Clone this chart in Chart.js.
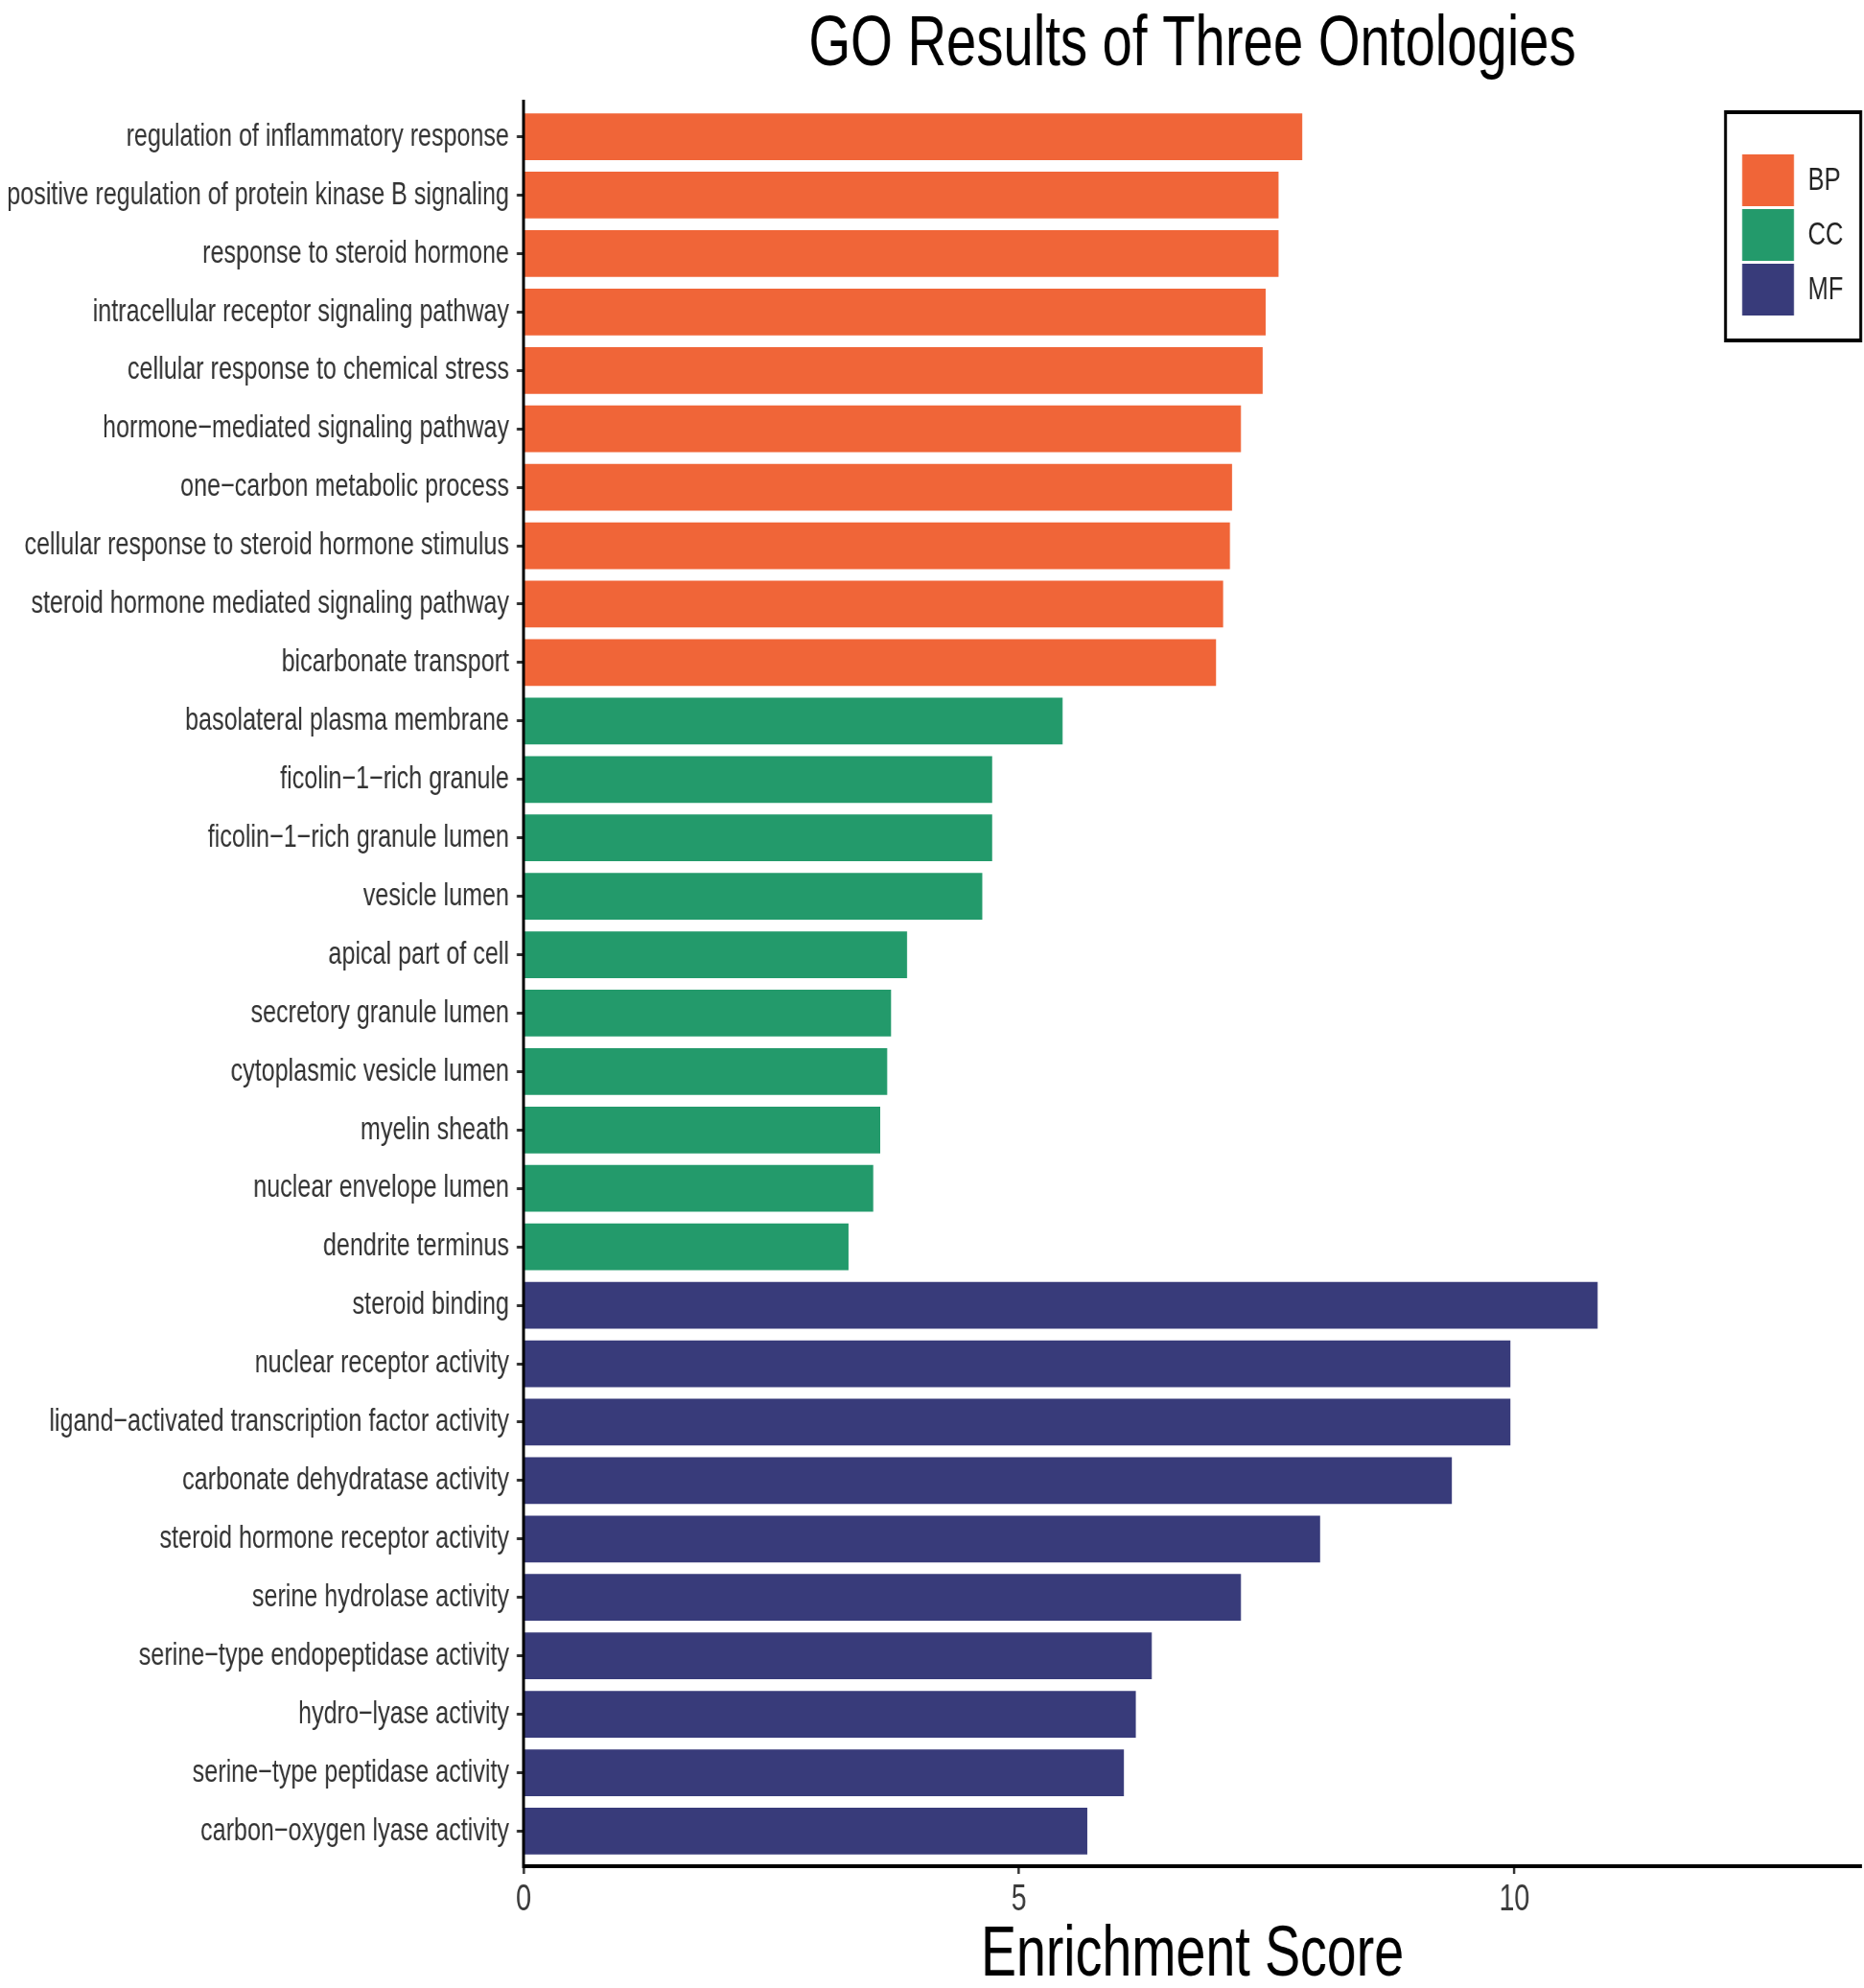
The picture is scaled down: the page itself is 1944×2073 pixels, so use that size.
<!DOCTYPE html>
<html>
<head>
<meta charset="utf-8">
<title>GO Results of Three Ontologies</title>
<script src="https://cdn.jsdelivr.net/npm/chart.js@4.4.1/dist/chart.umd.min.js"></script>
<style>
  html, body { margin: 0; padding: 0; background: #fff; }
  canvas { display: block; }
</style>
</head>
<body>
<canvas id="go_chart"></canvas>
<script>
const terms = [
  'regulation of inflammatory response',
  'positive regulation of protein kinase B signaling',
  'response to steroid hormone',
  'intracellular receptor signaling pathway',
  'cellular response to chemical stress',
  'hormone\u2212mediated signaling pathway',
  'one\u2212carbon metabolic process',
  'cellular response to steroid hormone stimulus',
  'steroid hormone mediated signaling pathway',
  'bicarbonate transport',
  'basolateral plasma membrane',
  'ficolin\u22121\u2212rich granule',
  'ficolin\u22121\u2212rich granule lumen',
  'vesicle lumen',
  'apical part of cell',
  'secretory granule lumen',
  'cytoplasmic vesicle lumen',
  'myelin sheath',
  'nuclear envelope lumen',
  'dendrite terminus',
  'steroid binding',
  'nuclear receptor activity',
  'ligand\u2212activated transcription factor activity',
  'carbonate dehydratase activity',
  'steroid hormone receptor activity',
  'serine hydrolase activity',
  'serine\u2212type endopeptidase activity',
  'hydro\u2212lyase activity',
  'serine\u2212type peptidase activity',
  'carbon\u2212oxygen lyase activity'
];
const scores = [
  7.86, 7.62, 7.62, 7.49, 7.46, 7.24, 7.15, 7.13, 7.06, 6.99,
  5.44, 4.73, 4.73, 4.63, 3.87, 3.71, 3.67, 3.60, 3.53, 3.28,
  10.84, 9.96, 9.96, 9.37, 8.04, 7.24, 6.34, 6.18, 6.06, 5.69
];
const ontology = [
  'BP', 'BP', 'BP', 'BP', 'BP', 'BP', 'BP', 'BP', 'BP', 'BP',
  'CC', 'CC', 'CC', 'CC', 'CC', 'CC', 'CC', 'CC', 'CC', 'CC',
  'MF', 'MF', 'MF', 'MF', 'MF', 'MF', 'MF', 'MF', 'MF', 'MF'
];
const groups = ['BP', 'CC', 'MF'];
const group_colors = ['#F06538', '#239A6B', '#383B7A'];
const x_ticks = [0, 5, 10];
const x_max = 13.5;

// the original figure is squeezed sideways (narrow text), so the canvas is
// drawn wider than the page and css squeezes it back
const SQUEEZE = 0.75;
const PAGE_W = 1944, PAGE_H = 2073;
const hx = v => v / SQUEEZE;

const canvas = document.getElementById('go_chart');
canvas.width = Math.round(hx(PAGE_W));
canvas.height = PAGE_H;
canvas.style.width = PAGE_W + 'px';
canvas.style.height = PAGE_H + 'px';

const FONT = "'Liberation Sans', Arial, Helvetica, sans-serif";

const title_and_legend = {
  id: 'title_and_legend',
  afterDraw(chart) {
    const ctx = chart.ctx, area = chart.chartArea;
    ctx.save();
    ctx.fillStyle = '#000';
    ctx.font = '75px ' + FONT;
    ctx.textAlign = 'center';
    ctx.textBaseline = 'alphabetic';
    ctx.fillText('GO Results of Three Ontologies', (area.left + area.right) / 2, 68);

    // legend box sits over the top right of the plot
    let box_r = chart.width - hx(3.5), box_l = box_r - hx(141);
    ctx.lineWidth = 4;
    ctx.strokeStyle = '#000';
    ctx.strokeRect(box_l, 117, box_r - box_l, 238);
    ctx.font = '34px ' + FONT;
    ctx.textAlign = 'left';
    ctx.textBaseline = 'middle';
    groups.forEach((g, i) => {
      let y = 161 + i * 57;
      ctx.fillStyle = group_colors[i];
      ctx.fillRect(box_l + hx(17.5), y, hx(54), 54);
      ctx.fillStyle = '#222';
      ctx.fillText(g, box_l + hx(86), y + 28);
    });
    ctx.restore();
  }
};

new Chart(canvas, {
  type: 'bar',
  data: {
    datasets: [{
      data: scores.map((s, i) => ({x: s, y: i})),
      backgroundColor: ontology.map(o => group_colors[groups.indexOf(o)]),
      barPercentage: 0.8,
      categoryPercentage: 1.0,
      borderWidth: 0
    }]
  },
  options: {
    indexAxis: 'y',
    responsive: false,
    devicePixelRatio: 1,
    animation: false,
    layout: {padding: {top: 106, right: hx(3), bottom: 0, left: 0}},
    plugins: {
      legend: {display: false},
      tooltip: {enabled: false},
      title: {display: false}
    },
    scales: {
      x: {
        type: 'linear',
        position: 'bottom',
        min: 0,
        max: x_max,
        afterBuildTicks: ax => { ax.ticks = x_ticks.map(v => ({value: v})); },
        afterFit: ax => { ax.height = PAGE_H - 1946; },
        grid: {display: true, drawOnChartArea: false, drawTicks: true, tickLength: 8, tickWidth: hx(2.5), tickColor: '#333'},
        border: {display: true, color: '#000', width: 4, z: 1},
        ticks: {color: '#3a3a3a', font: {family: FONT, size: 38}, padding: 5, maxRotation: 0, autoSkip: false},
        title: {
          display: true,
          text: 'Enrichment Score',
          color: '#000',
          font: {family: FONT, size: 74, lineHeight: 0.9},
          padding: 0
        }
      },
      y: {
        type: 'linear',
        position: 'left',
        reverse: true,
        offset: false,
        min: -0.6,
        max: terms.length - 0.4,
        afterBuildTicks: ax => { ax.ticks = terms.map((t, i) => ({value: i})); },
        afterFit: ax => { ax.width = hx(546); },
        grid: {display: true, offset: false, drawOnChartArea: false, drawTicks: true, tickLength: hx(7), tickWidth: 3, tickColor: '#333'},
        border: {display: true, color: '#000', width: hx(3), z: 1},
        ticks: {
          color: '#333',
          font: {family: FONT, size: 33.5},
          padding: hx(8),
          autoSkip: false,
          callback: v => terms[v]
        }
      }
    }
  },
  plugins: [title_and_legend]
});
</script>
</body>
</html>
